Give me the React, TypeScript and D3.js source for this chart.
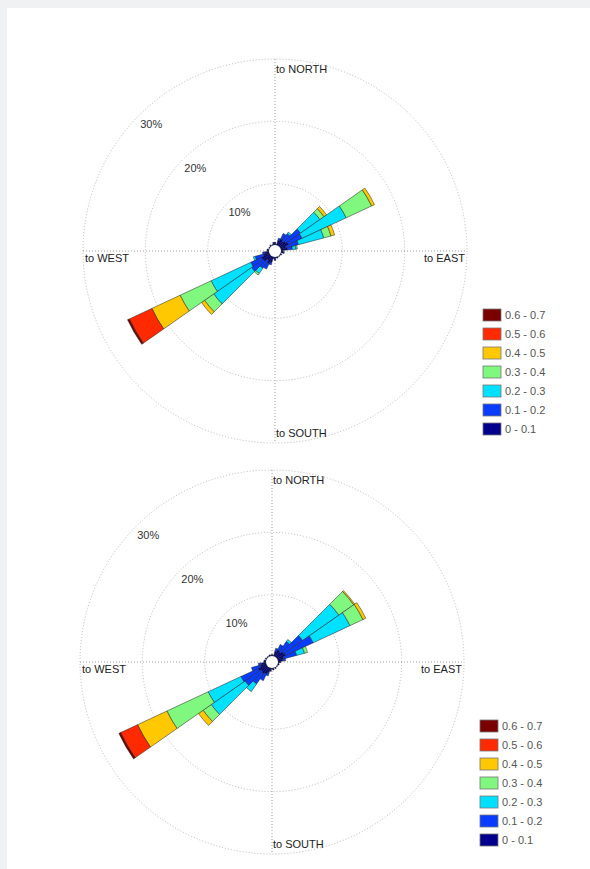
import React from "react";
import * as d3 from "d3";

// wind direction bins (degrees, "blowing to")
const directions = [
  0, 10, 20, 30, 40, 50, 60, 70, 80, 90, 100, 110, 120, 130, 140, 150, 160, 170,
  180, 190, 200, 210, 220, 230, 240, 250, 260, 270, 280, 290, 300, 310, 320, 330, 340, 350,
];
const speedBins = ["0 - 0.1", "0.1 - 0.2", "0.2 - 0.3", "0.3 - 0.4", "0.4 - 0.5", "0.5 - 0.6", "0.6 - 0.7"];
const binColors = ["#00008c", "#0a3cff", "#00e1ff", "#80f880", "#ffc800", "#ff2a00", "#7a0000"];
const ringTicks = [10, 20, 30];

// top rose: frequency (%) per speed bin, one value per direction
const topNavy = [0.5, 0.3, 0.9, 1.3, 1.1, 1.4, 1.6, 1.0, 1.2, 0.4, 0.6, 0.2, 0.4, 0.2, 0.3, 0.2, 0.4, 0.3,
  0.6, 0.4, 1.1, 1.4, 1.0, 1.5, 1.6, 1.1, 0.8, 0.3, 0.5, 0.2, 0.3, 0.2, 0.4, 0.2, 0.3, 0.5];
const topBlue = [0.1, 0, 0.4, 1.0, 1.5, 2.8, 2.4, 2.1, 0.8, 0.1, 0.1, 0, 0, 0, 0, 0, 0, 0,
  0.1, 0, 0.4, 1.0, 1.6, 2.3, 1.9, 1.4, 0.4, 0.1, 0, 0, 0, 0, 0, 0, 0, 0.1];
const topCyan = [0, 0, 0, 0, 0.3, 3.8, 7.8, 4.2, 0.6, 0, 0, 0, 0, 0, 0, 0, 0, 0,
  0, 0, 0, 0, 1.0, 7.4, 7.0, 0.3, 0, 0, 0, 0, 0, 0, 0, 0, 0, 0];
const topGreen = [0, 0, 0, 0, 0, 0.8, 4.5, 1.2, 0.2, 0, 0, 0, 0, 0, 0, 0, 0, 0,
  0, 0, 0, 0, 0.3, 1.8, 5.5, 0, 0, 0, 0, 0, 0, 0, 0, 0, 0, 0];
const topYellow = [0, 0, 0, 0, 0, 0.5, 0.5, 0.6, 0, 0, 0, 0, 0, 0, 0, 0, 0, 0,
  0, 0, 0, 0, 0, 0.6, 5.0, 0, 0, 0, 0, 0, 0, 0, 0, 0, 0, 0];
const topRed = [0, 0, 0, 0, 0, 0, 0, 0, 0, 0, 0, 0, 0, 0, 0, 0, 0, 0,
  0, 0, 0, 0, 0, 0, 4.0, 0, 0, 0, 0, 0, 0, 0, 0, 0, 0, 0];
const topDarkRed = [0, 0, 0, 0, 0, 0, 0, 0, 0, 0, 0, 0, 0, 0, 0, 0, 0, 0,
  0, 0, 0, 0, 0, 0, 0.3, 0, 0, 0, 0, 0, 0, 0, 0, 0, 0, 0];

// bottom rose
const botNavy = [0.4, 0.3, 1.0, 1.3, 1.2, 1.5, 1.6, 1.1, 0.9, 0.5, 0.3, 0.4, 0.2, 0.3, 0.2, 0.4, 0.2, 0.5,
  0.3, 0.6, 1.0, 1.3, 1.5, 1.4, 1.6, 1.1, 0.9, 0.4, 0.5, 0.2, 0.4, 0.2, 0.3, 0.2, 0.4, 0.3];
const botBlue = [0, 0, 0.5, 1.0, 2.0, 3.7, 4.9, 2.2, 0.5, 0.1, 0, 0, 0, 0, 0, 0, 0, 0,
  0, 0.1, 0.5, 1.2, 2.0, 3.1, 3.1, 1.5, 0.5, 0.1, 0, 0, 0, 0, 0, 0, 0, 0];
const botCyan = [0, 0, 0, 0, 0.4, 7.1, 6.5, 1.3, 0, 0, 0, 0, 0, 0, 0, 0, 0, 0,
  0, 0, 0, 0, 1.5, 6.6, 5.8, 0, 0, 0, 0, 0, 0, 0, 0, 0, 0, 0];
const botGreen = [0, 0, 0, 0, 0, 2.9, 2.3, 0.5, 0, 0, 0, 0, 0, 0, 0, 0, 0, 0,
  0, 0, 0, 0, 0, 1.6, 7.3, 0, 0, 0, 0, 0, 0, 0, 0, 0, 0, 0];
const botYellow = [0, 0, 0, 0, 0, 0.2, 0.5, 0, 0, 0, 0, 0, 0, 0, 0, 0, 0, 0,
  0, 0, 0, 0, 0, 0.9, 5.2, 0, 0, 0, 0, 0, 0, 0, 0, 0, 0, 0];
const botRed = [0, 0, 0, 0, 0, 0, 0, 0, 0, 0, 0, 0, 0, 0, 0, 0, 0, 0,
  0, 0, 0, 0, 0, 0, 3.0, 0, 0, 0, 0, 0, 0, 0, 0, 0, 0, 0];
const botDarkRed = [0, 0, 0, 0, 0, 0, 0, 0, 0, 0, 0, 0, 0, 0, 0, 0, 0, 0,
  0, 0, 0, 0, 0, 0, 0.3, 0, 0, 0, 0, 0, 0, 0, 0, 0, 0, 0];

const topSeries = [topNavy, topBlue, topCyan, topGreen, topYellow, topRed, topDarkRed];
const botSeries = [botNavy, botBlue, botCyan, botGreen, botYellow, botRed, botDarkRed];

const font = "'Liberation Sans', Arial, sans-serif";
const R = 192;
const r0 = 5;
const binWidth = 10;

const WindRose = ({ cx, cy, series, legendX, legendY }) => {
  const r = d3.scaleLinear().domain([0, 30]).range([r0, R]);
  const rad = (deg) => (deg * Math.PI) / 180;
  const arc = d3.arc();

  // stack the speed bins for every direction
  const wedges = [];
  directions.forEach((dir, i) => {
    let acc = 0;
    series.forEach((s, k) => {
      const v = s[i];
      if (v > 0) {
        wedges.push({
          key: `${dir}-${k}`,
          color: binColors[k],
          d: arc({
            innerRadius: r(acc),
            outerRadius: r(acc + v),
            startAngle: rad(dir - binWidth / 2),
            endAngle: rad(dir + binWidth / 2),
          }),
        });
      }
      acc += v;
    });
  });

  const gridStyle = { fill: "none", stroke: "#a8a8a8", strokeWidth: 0.8, strokeDasharray: "1,2" };

  return (
    <g>
      <g transform={`translate(${cx},${cy})`}>
        {ringTicks.map((t) => (
          <circle key={t} r={r(t)} style={gridStyle} />
        ))}
        <line x1={-R} x2={R} y1={0} y2={0} style={{ ...gridStyle, stroke: "#8c8c8c" }} />
        <line x1={0} x2={0} y1={-R} y2={R} style={{ ...gridStyle, stroke: "#8c8c8c" }} />
        {ringTicks.map((t) => {
          const p = r(t) * Math.SQRT1_2;
          return (
            <text key={t} x={-p + 1} y={-p + 13} fontSize={11} fill="#333" fontFamily={font}>
              {t}%
            </text>
          );
        })}
        <text x={1} y={-R + 14} fontSize={11} fill="#222" fontFamily={font}>to NORTH</text>
        <text x={1} y={R - 6} fontSize={11} fill="#222" fontFamily={font}>to SOUTH</text>
        <text x={-R + 2} y={11} fontSize={11} fill="#222" fontFamily={font}>to WEST</text>
        <text x={R - 2} y={11} fontSize={11} fill="#222" fontFamily={font} textAnchor="end">to EAST</text>
        {wedges.map((w) => (
          <path key={w.key} d={w.d} fill={w.color} stroke="#1e1e1e" strokeWidth={0.5} />
        ))}
        <circle r={r0 + 1} fill="#fff" />
      </g>
      <g transform={`translate(${legendX},${legendY})`}>
        {speedBins
          .map((label, k) => ({ label, k }))
          .reverse()
          .map(({ label, k }, j) => (
            <g key={label} transform={`translate(0,${j * 19})`}>
              <rect width={18} height={12} fill={binColors[k]} stroke="#777" strokeWidth={0.8} />
              <text x={22} y={10} fontSize={11} fill="#555" fontFamily={font}>
                {label}
              </text>
            </g>
          ))}
      </g>
    </g>
  );
};

export default function App() {
  return (
    <svg
      width={590}
      height={869}
      style={{ position: "absolute", left: 0, top: 0 }}
    >
      <rect width={590} height={869} fill="#f0f1f3" />
      <rect x={7} y={8} width={583} height={861} fill="#ffffff" />
      <WindRose cx={275} cy={251} series={topSeries} legendX={483} legendY={309} />
      <WindRose cx={272} cy={662} series={botSeries} legendX={480} legendY={720} />
    </svg>
  );
}
